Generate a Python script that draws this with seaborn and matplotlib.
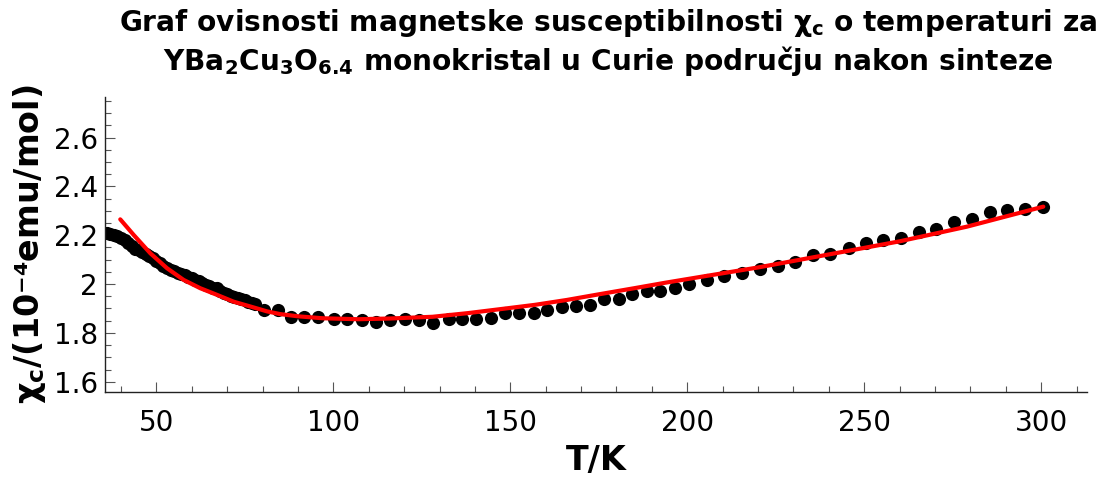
import pandas as pd
import seaborn as sns
import matplotlib.pyplot as plt
from matplotlib.ticker import MultipleLocator

t_dense = list(range(36, 79))
chi_dense = [2.211, 2.207, 2.202, 2.197, 2.188, 2.180, 2.169, 2.155, 2.145, 2.139,
             2.132, 2.124, 2.115, 2.105, 2.096, 2.086, 2.076, 2.066, 2.059, 2.053,
             2.047, 2.042, 2.036, 2.030, 2.024, 2.018, 2.012, 2.006, 1.998, 1.991,
             1.983, 1.982, 1.971, 1.965, 1.959, 1.953, 1.948, 1.943, 1.938, 1.933,
             1.928, 1.923, 1.918]

# sparse measurement points
t_points = [80.3, 84.4, 88.1, 91.8, 95.8, 100.1, 103.9, 108.1, 112.1, 116.1,
            120.2, 124.3, 128.3, 132.6, 136.4, 140.4, 144.6, 148.6, 152.5, 156.6,
            160.5, 164.7, 168.6, 172.6, 176.6, 180.6, 184.5, 188.6, 192.4, 196.4,
            200.6, 205.5, 210.5, 215.5, 220.6, 225.5, 230.5, 235.5, 240.4, 245.6,
            250.5, 255.4, 260.5, 265.5, 270.3, 275.5, 280.4, 285.6, 290.4, 295.3,
            300.6]
chi_points = [1.895, 1.895, 1.866, 1.866, 1.864, 1.856, 1.855, 1.854, 1.843, 1.853,
              1.855, 1.853, 1.841, 1.859, 1.858, 1.858, 1.860, 1.881, 1.883, 1.881,
              1.894, 1.906, 1.911, 1.915, 1.938, 1.938, 1.960, 1.972, 1.971, 1.983,
              2.000, 2.017, 2.031, 2.045, 2.061, 2.076, 2.092, 2.118, 2.124, 2.147,
              2.170, 2.180, 2.188, 2.213, 2.226, 2.253, 2.265, 2.294, 2.305, 2.306,
              2.317]

# Curie fit curve
t_fit = [39.8, 43.6, 48.3, 53.0, 57.7, 62.4, 67.1, 71.8, 76.6, 81.3, 85, 90, 97,
         107, 116, 128, 138, 147, 157, 166, 175, 185, 194, 204, 220, 241, 260, 279,
         300.6]
chi_fit = [2.265, 2.201, 2.126, 2.065, 2.017, 1.983, 1.956, 1.928, 1.908, 1.888,
           1.877, 1.868, 1.860, 1.856, 1.859, 1.866, 1.881, 1.897, 1.915, 1.935,
           1.958, 1.983, 2.006, 2.030, 2.068, 2.124, 2.175, 2.235, 2.317]

x_ticks = [50, 100, 150, 200, 250, 300]
y_ticks = [1.6, 1.8, 2.0, 2.2, 2.4, 2.6]
y_tick_labels = ['1.6', '1.8', '2', '2.2', '2.4', '2.6']

meas = pd.DataFrame({'T': t_dense + t_points, 'chi': chi_dense + chi_points})
fit = pd.DataFrame({'T': t_fit, 'chi': chi_fit})

sns.set_style('ticks')
plt.rcParams['font.family'] = ['DejaVu Sans']
plt.rcParams['mathtext.fontset'] = 'dejavusans'
plt.rcParams['mathtext.default'] = 'bf'
for k in ['text.color', 'axes.labelcolor', 'xtick.color', 'ytick.color']:
    plt.rcParams[k] = 'black'

fig = plt.figure(figsize=(11.07, 4.86), dpi=100)
ax = fig.add_axes([0.0949, 0.1934, 0.8872, 0.607])

sns.scatterplot(data=meas, x='T', y='chi', color='black', s=90, linewidth=0, ax=ax, zorder=2)
sns.lineplot(data=fit, x='T', y='chi', color='#ff0000', lw=3, estimator=None, ax=ax, zorder=3)

ax.set_xlim(35.5, 313)
ax.set_ylim(1.558, 2.766)
ax.set_xticks(x_ticks)
ax.set_yticks(y_ticks)
ax.set_yticklabels(y_tick_labels)
ax.xaxis.set_minor_locator(MultipleLocator(10))
ax.yaxis.set_minor_locator(MultipleLocator(0.05))

for s in ['top', 'right']:
    ax.spines[s].set_visible(False)
for s in ['left', 'bottom']:
    ax.spines[s].set_color('#222222')
    ax.spines[s].set_linewidth(1.0)

ax.tick_params(which='both', direction='in', color='#555555', width=0.8)
ax.tick_params(which='major', length=7)
ax.tick_params(which='minor', length=4)
ax.tick_params(axis='y', which='major', labelsize=20, pad=5)
ax.tick_params(axis='x', which='major', labelsize=20, pad=12)

ax.set_xlabel('T/K', fontsize=24, fontweight='bold', labelpad=5)
ax.set_ylabel('χ$_c$/(10⁻⁴emu/mol)', fontsize=24, fontweight='bold', labelpad=4)

fig.text(0.549, 0.985,
         'Graf ovisnosti magnetske susceptibilnosti χ$_c$ o temperaturi za\n'
         'YBa$_2$Cu$_3$O$_{6.4}$ monokristal u Curie području nakon sinteze',
         ha='center', va='top', fontsize=20.2, fontweight='bold', linespacing=1.2)

fig.savefig('out.png', dpi=100)
